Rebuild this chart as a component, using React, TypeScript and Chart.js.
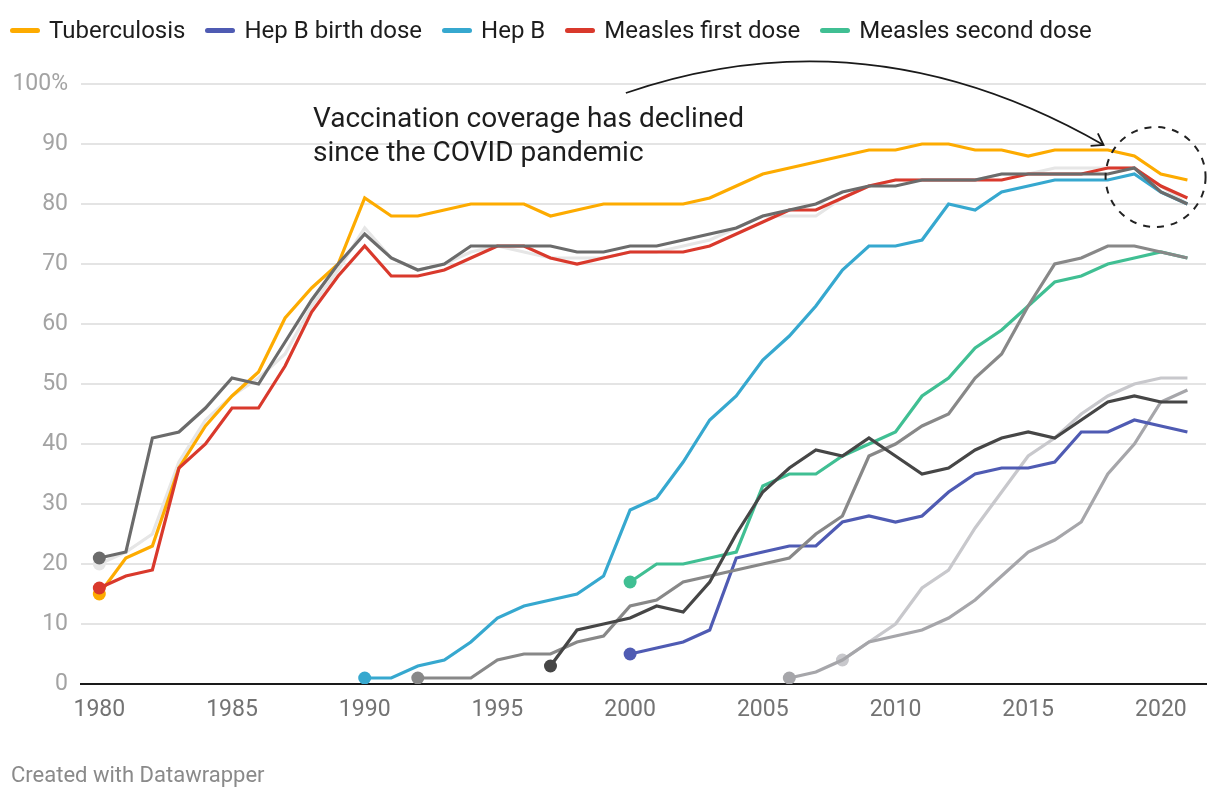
import React, { useEffect, useRef } from "react";
import { Chart, registerables } from "chart.js";

Chart.register(...registerables);

// ---------- data ----------
const xTickYears = [1980, 1985, 1990, 1995, 2000, 2005, 2010, 2015, 2020];

const tuberculosisStart = 1980;
const tuberculosis = [
  15, 21, 23, 36, 43, 48, 52, 61, 66, 70,
  81, 78, 78, 79, 80, 80, 80, 78, 79, 80,
  80, 80, 80, 81, 83, 85, 86, 87, 88, 89,
  89, 90, 90, 89, 89, 88, 89, 89, 89, 88,
  85, 84,
];

const hepBBirthStart = 2000;
const hepBBirth = [
  5, 6, 7, 9, 21, 22, 23, 23, 27, 28,
  27, 28, 32, 35, 36, 36, 37, 42, 42, 44,
  43, 42,
];

const hepBStart = 1990;
const hepB = [
  1, 1, 3, 4, 7, 11, 13, 14, 15, 18,
  29, 31, 37, 44, 48, 54, 58, 63, 69, 73,
  73, 74, 80, 79, 82, 83, 84, 84, 84, 85,
  82, 80,
];

const measlesFirstStart = 1980;
const measlesFirst = [
  16, 18, 19, 36, 40, 46, 46, 53, 62, 68,
  73, 68, 68, 69, 71, 73, 73, 71, 70, 71,
  72, 72, 72, 73, 75, 77, 79, 79, 81, 83,
  84, 84, 84, 84, 84, 85, 85, 85, 86, 86,
  83, 81,
];

const measlesSecondStart = 2000;
const measlesSecond = [
  17, 20, 20, 21, 22, 33, 35, 35, 38, 40,
  42, 48, 51, 56, 59, 63, 67, 68, 70, 71,
  72, 71,
];

// unlabelled grey background series
const greyAStart = 1980; // dark grey
const greyA = [
  21, 22, 41, 42, 46, 51, 50, 57, 64, 70,
  75, 71, 69, 70, 73, 73, 73, 73, 72, 72,
  73, 73, 74, 75, 76, 78, 79, 80, 82, 83,
  83, 84, 84, 84, 85, 85, 85, 85, 85, 86,
  82, 80,
];

const greyBStart = 1980; // very light grey
const greyB = [
  20, 22, 25, 37, 44, 48, 51, 55, 63, 69,
  76, 71, 69, 70, 72, 73, 72, 71, 71, 71,
  72, 72, 73, 74, 76, 78, 78, 78, 81, 83,
  84, 84, 84, 84, 85, 85, 86, 86, 86, 86,
  83, 80,
];

const greyCStart = 1992; // medium grey
const greyC = [
  1, 1, 1, 4, 5, 5, 7, 8,
  13, 14, 17, 18, 19, 20, 21, 25, 28, 38,
  40, 43, 45, 51, 55, 63, 70, 71, 73, 73,
  72, 71,
];

const greyDStart = 1997; // darkest grey
const greyD = [
  3, 9, 10,
  11, 13, 12, 17, 25, 32, 36, 39, 38, 41,
  38, 35, 36, 39, 41, 42, 41, 44, 47, 48,
  47, 47,
];

const greyEStart = 2006;
const greyE = [1, 2, 4, 7, 8, 9, 11, 14, 18, 22, 24, 27, 35, 40, 47, 49];

const greyFStart = 2008;
const greyF = [4, 7, 10, 16, 19, 26, 32, 38, 41, 45, 48, 50, 51, 51];

// ---------- styles ----------
const FONT = "Roboto, 'Noto Sans', Arial, sans-serif";

const legendItems = [
  { label: "Tuberculosis", color: "#fdab00" },
  { label: "Hep B birth dose", color: "#4f5bb3" },
  { label: "Hep B", color: "#36a8cf" },
  { label: "Measles first dose", color: "#d9392c" },
  { label: "Measles second dose", color: "#40bf93" },
];

const toPoints = (start: number, values: number[]) =>
  values.map((v, i) => ({ x: start + i, y: v }));

const mkSet = (label: string, start: number, values: number[], color: string) => ({
  label,
  data: toPoints(start, values),
  borderColor: color,
  backgroundColor: color,
  borderWidth: 3.2,
  pointRadius: (c: any) => (c.dataIndex === 0 ? 6.5 : 0),
  pointHoverRadius: 0,
  pointBorderWidth: 0,
  pointBackgroundColor: color,
  borderJoinStyle: "miter" as const,
  tension: 0,
  fill: false,
});

const annotationPlugin = {
  id: "covidAnnotation",
  afterDatasetsDraw(chart: any) {
    const { ctx, scales } = chart;
    const x = scales.x;
    const y = scales.y;
    const px = (yr: number) => x.getPixelForValue(yr);
    const py = (v: number) => y.getPixelForValue(v);
    ctx.save();
    // curved arrow
    const p0 = { x: px(1999.84), y: py(98.5) };
    const c = { x: px(2008.99), y: py(112.33) };
    const p2 = { x: px(2017.84), y: py(89.83) };
    ctx.strokeStyle = "#1a1a1a";
    ctx.lineWidth = 1.8;
    ctx.beginPath();
    ctx.moveTo(p0.x, p0.y);
    ctx.quadraticCurveTo(c.x, c.y, p2.x, p2.y);
    ctx.stroke();
    const ang = Math.atan2(p2.y - c.y, p2.x - c.x);
    const len = 13;
    const spread = (34 * Math.PI) / 180;
    ctx.beginPath();
    ctx.moveTo(p2.x - len * Math.cos(ang - spread), p2.y - len * Math.sin(ang - spread));
    ctx.lineTo(p2.x, p2.y);
    ctx.lineTo(p2.x - len * Math.cos(ang + spread), p2.y - len * Math.sin(ang + spread));
    ctx.stroke();
    // dashed circle
    ctx.setLineDash([7, 7]);
    ctx.lineWidth = 2;
    ctx.strokeStyle = "#222";
    ctx.beginPath();
    ctx.arc(px(2019.8), py(84.5), 50, 0, Math.PI * 2);
    ctx.stroke();
    ctx.restore();
  },
};

export default function App() {
  const canvasRef = useRef<HTMLCanvasElement | null>(null);

  useEffect(() => {
    if (!canvasRef.current) return;
    const datasets = [
      mkSet("greyA", greyAStart, greyA, "#6b6b6b"),
      mkSet("greyD", greyDStart, greyD, "#464646"),
      mkSet("greyC", greyCStart, greyC, "#888888"),
      mkSet("Measles first dose", measlesFirstStart, measlesFirst, legendItems[3].color),
      mkSet("Hep B", hepBStart, hepB, legendItems[2].color),
      mkSet("Measles second dose", measlesSecondStart, measlesSecond, legendItems[4].color),
      mkSet("Hep B birth dose", hepBBirthStart, hepBBirth, legendItems[1].color),
      mkSet("Tuberculosis", tuberculosisStart, tuberculosis, legendItems[0].color),
      mkSet("greyE", greyEStart, greyE, "#a6a6aa"),
      mkSet("greyF", greyFStart, greyF, "#c8c8cc"),
      mkSet("greyB", greyBStart, greyB, "#e6e6e6"),
    ];
    const chart = new Chart(canvasRef.current, {
      type: "line",
      data: { datasets },
      plugins: [annotationPlugin],
      options: {
        animation: false,
        responsive: false,
        maintainAspectRatio: false,
        events: [],
        layout: { padding: { top: 84, right: 14, bottom: 0, left: 0 } },
        plugins: {
          legend: { display: false },
          tooltip: { enabled: false },
        },
        scales: {
          x: {
            type: "linear",
            min: 1979.31,
            max: 2021.7,
            afterFit: (s: any) => {
              s.height = 116;
            },
            afterBuildTicks: (s: any) => {
              s.ticks = xTickYears.map((v) => ({ value: v }));
            },
            ticks: {
              callback: (v: any) => String(v),
              color: "#737373",
              font: { family: FONT, size: 23 },
              padding: 12,
              autoSkip: false,
              maxRotation: 0,
            },
            grid: { display: true, color: "rgba(0,0,0,0)", drawTicks: false },
            border: { display: true, color: "#1a1a1a", width: 2 },
          },
          y: {
            min: 0,
            max: 100,
            afterFit: (s: any) => {
              s.width = 81;
            },
            ticks: {
              stepSize: 10,
              callback: (v: any) => (v === 100 ? "100%" : String(v)),
              color: "#a3a3a3",
              font: { family: FONT, size: 23 },
              padding: 13,
            },
            grid: { color: "#e4e4e4", lineWidth: 2, drawTicks: false },
            border: { display: false },
          },
        },
      },
    });
    return () => chart.destroy();
  }, []);

  return (
    <div
      style={{
        position: "absolute",
        left: 0,
        top: 0,
        width: 1220,
        height: 800,
        background: "#fff",
        fontFamily: FONT,
        overflow: "hidden",
      }}
    >
      <canvas
        ref={canvasRef}
        width={1220}
        height={800}
        style={{ position: "absolute", left: 0, top: 0, width: 1220, height: 800 }}
      />
      <div
        style={{
          position: "absolute",
          left: 10,
          top: 15,
          display: "flex",
          alignItems: "center",
          height: 30,
          fontSize: 24,
          color: "#1d1d1d",
          whiteSpace: "nowrap",
        }}
      >
        {legendItems.map((it) => (
          <div key={it.label} style={{ display: "flex", alignItems: "center", marginRight: 20 }}>
            <span
              style={{
                display: "inline-block",
                width: 30,
                height: 5,
                borderRadius: 3,
                background: it.color,
                marginRight: 9,
              }}
            />
            <span>{it.label}</span>
          </div>
        ))}
      </div>
      <div
        style={{
          position: "absolute",
          left: 313,
          top: 101,
          fontSize: 28,
          lineHeight: "34px",
          color: "#1d1d1d",
          whiteSpace: "nowrap",
        }}
      >
        Vaccination coverage has declined
        <br />
        since the COVID pandemic
      </div>
      <div
        style={{
          position: "absolute",
          left: 11,
          top: 762,
          fontSize: 22,
          color: "#8a8a8a",
          whiteSpace: "nowrap",
        }}
      >
        Created with Datawrapper
      </div>
    </div>
  );
}
